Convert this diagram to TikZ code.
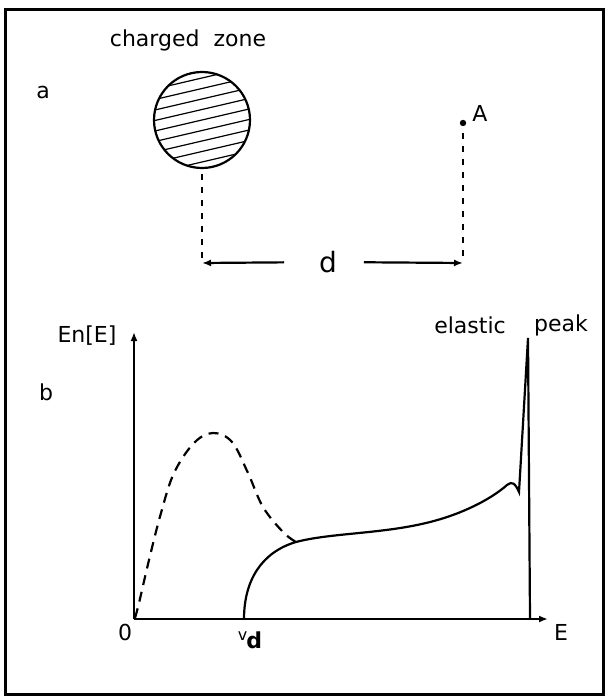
\documentclass[tikz,border=0pt]{standalone}
\usepackage{fontspec}
\setmainfont{DejaVu Sans}
\usetikzlibrary{arrows.meta,calc}

\begin{document}
\begin{tikzpicture}[>={Latex[length=4.5pt,width=3.5pt]},x=0.5pt,y=-0.5pt,line width=1.1pt,
    lbl/.style={font=\fontsize{11}{13}\selectfont,inner sep=0pt},
    longdash/.style={dash pattern=on 5pt off 3.5pt},
    shortdash/.style={dash pattern=on 3pt off 3.5pt}]
  \useasboundingbox (0,0) rectangle (607,699);
  \draw[line width=1.5pt] (5,10) rectangle (603,694);
  % a: charged zone and point A
  \node[lbl] (alabel) at (43,93) {a};
  \node[lbl] (zonelabel) at (188,40) {charged\ \ zone};
  \coordinate (zone) at (202,120);
  \coordinate (zonebot) at (202,168);
  \begin{scope}
    \clip (zone) circle (48);
    \foreach \k in {-5,...,5}
      \draw[line width=0.6pt] ($(zone)+(-60,10.5*\k+14)$) -- ++(120,-28);
  \end{scope}
  \draw (zone) circle (48);
  \coordinate (ptA) at (463,123);
  \fill (ptA) circle (3.2);
  \node[lbl] (Alabel) at (480,113) {A};
  \coordinate (dl) at (202,263);
  \coordinate (dr) at (463,263);
  \node[lbl,font=\fontsize{14}{16}\selectfont] (dlabel) at (328,262) {d};
  \draw[shortdash,shorten <=3pt] (zonebot) -- (dl);
  \draw[shortdash,shorten <=5pt,shorten >=2pt] (ptA) -- (dr);
  \draw[->,shorten <=17pt] (dlabel) -- (dl);
  \draw[->,shorten <=13pt] (dlabel) -- (dr);
  % b: spectrum
  \coordinate (O) at (134,619);
  \coordinate (ytop) at (134,332);
  \coordinate (xend) at (548,619);
  \draw[->] (O) -- (ytop);
  \draw[->] (O) -- (xend);
  \node[lbl] (blabel) at (46,392) {b};
  \node[lbl] (enlabel) at (87,336) {En[E]};
  \node[lbl] (zero) at (125,632) {0};
  \node[lbl] (Elabel) at (561,632) {E};
  \node[lbl] (vd) at (250,640) {\raisebox{4pt}{\footnotesize v}\kern-0.5pt\textbf{d}};
  \node[lbl] (elastic) at (470,325) {elastic};
  \node[lbl] (peak) at (561,325) {peak};
  \draw[longdash] plot[smooth,tension=0.6] coordinates {(135,618) (139,603) (149,560) (161,513)
    (174,473) (194,443) (213,433) (232,442) (248,473) (263,507) (283,532) (296,542)};
  \draw (244,619) .. controls (244,580) and (262,552) .. (296,542)
    .. controls (330,533) and (380,534) .. (426,523)
    .. controls (460,515) and (490,500) .. (507,485)
    .. controls (512,481) and (515,483) .. (519,492)
    -- (528,338) -- (530,619);
\end{tikzpicture}
\end{document}
